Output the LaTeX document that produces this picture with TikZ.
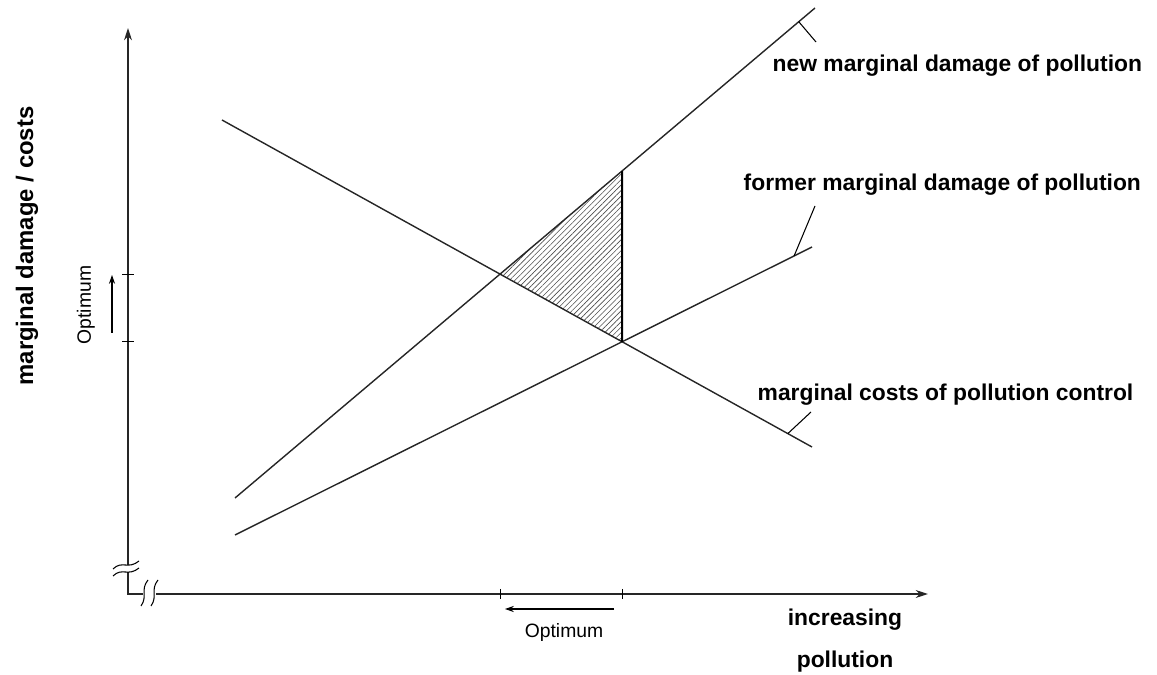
\documentclass[tikz,border=0pt]{standalone}
\usepackage{fontspec}
\setmainfont{Liberation Sans}
\usetikzlibrary{arrows.meta,
                calc,
                patterns.meta,
                positioning
            }

\begin{document}
\begin{tikzpicture}[x=0.02cm, y=-0.02cm, line width=0.8pt,
        curveline/.style={line width=0.8pt, black!85},
        axisline/.style={line width=0.8pt, black!85},
        tickline/.style={line width=0.6pt},
        curvelabel/.style={font=\fontsize{13}{15}\selectfont\bfseries, anchor=west, inner sep=0pt},
        optlabel/.style={font=\fontsize{11}{13}\selectfont, inner sep=0pt}]
                \useasboundingbox (0,0) rectangle (1157,675);

                % Axes
                \coordinate (ytop) at (128,28);
                \coordinate (ybrk) at (128,565);
                \coordinate (ylow) at (128,572);
                \coordinate (origin) at (128,594);
                \coordinate (xbrk) at (143,594);
                \coordinate (xlow) at (156,594);
                \coordinate (xend) at (928,594);
                \draw[axisline, -{Stealth[length=7pt, width=4.5pt]}] (ybrk) -- (ytop);
                \draw[axisline, -{Stealth[length=7pt, width=4.5pt]}] (xlow) -- (xend);
                \draw[axisline] (ylow) -- (origin) -- (xbrk);

                % Axis breaks
                \draw[line width=0.6pt] (113,569) .. controls (122,560) and (128,570) .. (139,561);
                \draw[line width=0.6pt] (113,576) .. controls (122,567) and (128,577) .. (139,568);
                \draw[line width=0.6pt] (141,606) .. controls (148,596) and (140,590) .. (148,580);
                \draw[line width=0.6pt] (151,606) .. controls (158,596) and (150,590) .. (158,580);

                % Curves
                \coordinate (c0) at (222,120);
                \coordinate (c1) at (812,447);
                \coordinate (n0) at (235,498);
                \coordinate (n1) at (815,8);
                \coordinate (f0) at (235,535);
                \coordinate (f1) at (812,247);
                \coordinate (P) at (intersection of c0--c1 and n0--n1);
                \coordinate (Q) at (intersection of c0--c1 and f0--f1);
                \coordinate (Qup) at ($(Q)+(0,-300)$);
                \coordinate (R) at (intersection of n0--n1 and Q--Qup);

                % Shaded triangle
                \fill[pattern={Lines[angle=45, distance=2.2pt, line width=0.35pt]}, pattern color=black!70] (P) -- (R) -- (Q) -- cycle;

                \draw[curveline] (c0) -- (c1);
                \draw[curveline] (n0) -- (n1);
                \draw[curveline] (f0) -- (f1);
                \draw[line width=1.1pt] (R) -- (Q);

                % Leaders
                \path (n0) -- (n1) coordinate[pos=0.972] (nj);
                \path (f0) -- (f1) coordinate[pos=0.969] (fj);
                \path (c0) -- (c1) coordinate[pos=0.959] (cj);
                \coordinate (nt) at (816,42);
                \coordinate (ft) at (815,206);
                \coordinate (ct) at (811,412);
                \draw[tickline] (nj) -- (nt);
                \draw[tickline] (fj) -- (ft);
                \draw[tickline] (cj) -- (ct);

                % Labels
                \node (newlbl) [curvelabel] at (772,66) {new marginal damage of pollution};
                \node (formerlbl) [curvelabel] at (743,185) {former marginal damage of pollution};
                \node (costlbl) [curvelabel] at (757,395) {marginal costs of pollution control};
                \node (xlbl1) [curvelabel, anchor=center] at (845,620) {increasing};
                \node (xlbl2) [curvelabel, anchor=center] at (845,662) {pollution};
                \node (ylbl) [curvelabel, font=\fontsize{13.6}{15}\selectfont\bfseries, anchor=center, rotate=90] at (27,246) {marginal damage / costs};

                % Optimum ticks
                \coordinate (xt1) at (P |- origin);
                \coordinate (xt2) at (Q |- origin);
                \coordinate (yt1) at (origin |- P);
                \coordinate (yt2) at (origin |- Q);
                \draw[tickline] ($(xt1)+(0,-5)$) -- ($(xt1)+(0,5)$);
                \draw[tickline] ($(xt2)+(0,-5)$) -- ($(xt2)+(0,5)$);
                \draw[tickline] ($(yt1)+(-6,0)$) -- ($(yt1)+(6,0)$);
                \draw[tickline] ($(yt2)+(-6,0)$) -- ($(yt2)+(6,0)$);

                % Optimum shift
                \coordinate (xa0) at (614,609);
                \coordinate (xa1) at (505,609);
                \coordinate (ya0) at (112,333);
                \coordinate (ya1) at (112,275);
                \draw[line width=0.6pt, -{Stealth[length=5pt, width=3.5pt]}] (xa0) -- (xa1);
                \draw[line width=0.6pt, -{Stealth[length=5pt, width=3.5pt]}] (ya0) -- (ya1);
                \node (xopt) [optlabel] at (564,633) {Optimum};
                \node (yopt) [optlabel, rotate=90] at (86,305) {Optimum};
\end{tikzpicture}
\end{document}
